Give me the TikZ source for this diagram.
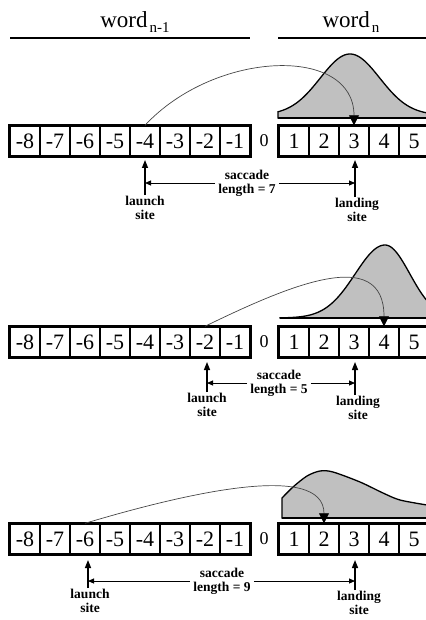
\documentclass[tikz,border=0pt]{standalone}
\usepackage{fontspec}
\setmainfont{Liberation Serif}
\usetikzlibrary{arrows.meta}
\definecolor{distgray}{RGB}{192,192,192}
\definecolor{arcgray}{RGB}{70,70,70}
\begin{document}
\begin{tikzpicture}[x=1pt,y=-1pt,
  cell/.style={draw, line width=1.4pt, minimum width=30pt, minimum height=30pt, inner sep=0pt, font=\fontsize{22}{22}\selectfont},
  zero/.style={inner sep=0pt, font=\fontsize{18}{18}\selectfont},
  frame/.style={line width=2.6pt},
  lbl/.style={align=center, inner sep=1pt, font=\bfseries\fontsize{13.5}{14}\selectfont},
  sacbox/.style={align=center, inner xsep=3pt, inner ysep=0pt, font=\bfseries\fontsize{13.5}{14}\selectfont},
  vup/.style={line width=1.4pt, -{Triangle[length=8pt,width=6pt]}},
  hor/.style={line width=0.9pt, -{Triangle[length=6pt,width=5pt]}},
  sacc/.style={line width=0.7pt, draw=arcgray, -{Triangle[length=10pt,width=10pt,color=black]}},
  dist/.style={fill=distgray, draw=black, line width=1.3pt},
  base/.style={line width=2.4pt},
  titletext/.style={inner sep=0pt, anchor=base, font=\fontsize{23}{23}\selectfont},
  tline/.style={line width=2.6pt}
]
\useasboundingbox (0,0) rectangle (425,620);

% titles
\node[titletext] (w1) at (135,28) {word\hspace{2pt}\raisebox{-5pt}{\fontsize{15}{15}\selectfont n-1}};
\node[titletext] (w2) at (351,28) {word\hspace{2pt}\raisebox{-5pt}{\fontsize{15}{15}\selectfont n}};
\draw[tline] (10,38) -- (250,38);
\draw[tline] (278,38) -- (427,38);

% distributions
\filldraw[dist] (278,118) -- (278,112) -- plot[domain=278:427,samples=90] (\x,{115-61*exp(0-((\x-350)/42)^2)}) -- (427,118) -- cycle;
\draw[base] (278,118) -- (427,118);

\filldraw[dist] (280,318) -- plot[domain=280:427,samples=90] (\x,{318-73*exp(0-((\x-385)/ifthenelse(\x<385,42,35))^2)}) -- (427,318) -- cycle;
\draw[base] (280,318) -- (427,318);

\filldraw[dist] (282,518) -- (282,498) -- plot[smooth] coordinates {(282,498) (293,487) (307,476) (320,471) (333,472) (360,482) (383,493) (400,500) (427,505)} -- (427,518) -- cycle;
\draw[base] (282,518) -- (427,518);

% boxes
\foreach \r/\yc in {1/141,2/342,3/539}{
  \foreach \i in {1,...,8}{
    \node[cell] (c\r-m\i) at ({25+30*(8-\i)},\yc) {-\i};
  }
  \foreach \k in {1,...,5}{
    \node[cell] (c\r-p\k) at ({294+30*(\k-1)},\yc) {\k};
  }
  \node[zero] (z\r) at (264,\yc) {0};
  \draw[frame] (c\r-m8.north west) rectangle (c\r-m1.south east);
  \draw[frame] (c\r-p1.north west) rectangle (c\r-p5.south east);
}

% saccade arcs
\draw[sacc] (c1-m4.north) .. controls (215,50) and (354,45) .. (c1-p3.north);
\draw[sacc] (c2-m2.north) .. controls (290,285) and (384,245) .. (c2-p4.north);
\draw[sacc] (c3-m6.north) .. controls (180,495) and (324,460) .. (c3-p2.north);

% row 1 annotations
\coordinate (t1) at (145,160);
\coordinate (u1) at (355,160);
\node[lbl] (L1) at (145,208) {launch\\site};
\node[lbl] (D1) at (357,210) {landing\\site};
\node[sacbox] (S1) at (247,183) {saccade\\length = 7};
\draw[vup] (L1) -- (t1);
\draw[vup] (D1.north -| u1) -- (u1);
\draw[hor] (S1) -- (S1 -| t1);
\draw[hor] (S1) -- (S1 -| u1);

% row 2 annotations
\coordinate (t2) at (207,362);
\coordinate (u2) at (355,362);
\node[lbl] (L2) at (207,405) {launch\\site};
\node[lbl] (D2) at (358,408) {landing\\site};
\node[sacbox] (S2) at (279,383) {saccade\\length = 5};
\draw[vup] (L2) -- (t2);
\draw[vup] (D2.north -| u2) -- (u2);
\draw[hor] (S2) -- (S2 -| t2);
\draw[hor] (S2) -- (S2 -| u2);

% row 3 annotations
\coordinate (t3) at (88,560);
\coordinate (u3) at (355,560);
\node[lbl] (L3) at (90,601) {launch\\site};
\node[lbl] (D3) at (359,603) {landing\\site};
\node[sacbox] (S3) at (222,581) {saccade\\length = 9};
\draw[vup] (L3.north -| t3) -- (t3);
\draw[vup] (D3.north -| u3) -- (u3);
\draw[hor] (S3) -- (S3 -| t3);
\draw[hor] (S3) -- (S3 -| u3);
\end{tikzpicture}
\end{document}
